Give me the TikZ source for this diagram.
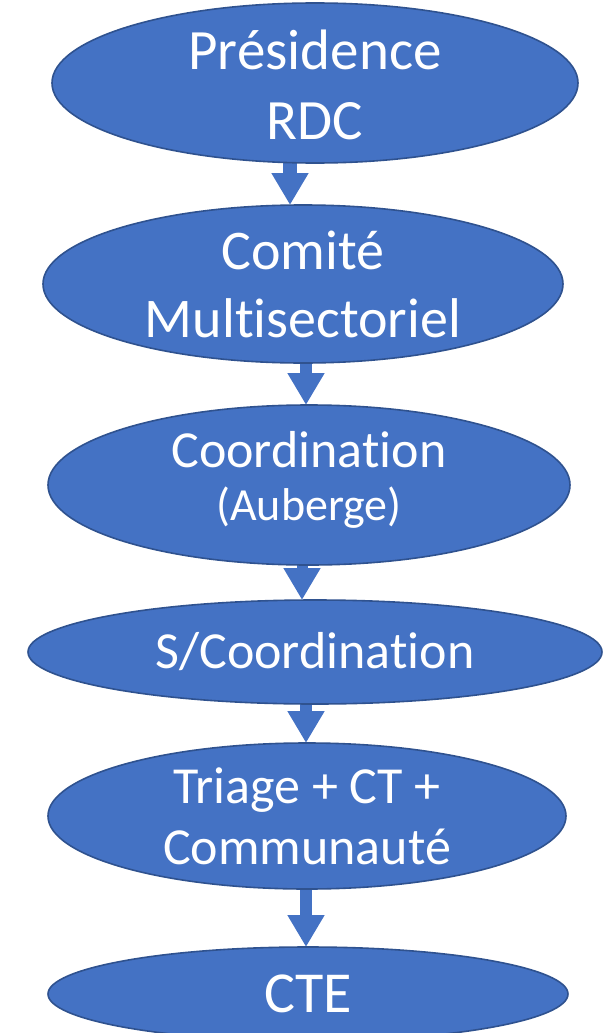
\documentclass[tikz,border=0pt]{standalone}
\usepackage{fontspec}
\setmainfont[RawFeature={-liga}]{Carlito}
\usetikzlibrary{shapes.geometric,arrows.meta,backgrounds}
\definecolor{ovalfill}{HTML}{4472C4}
\definecolor{ovalline}{HTML}{2F528F}
\tikzset{
  oval/.style={ellipse, draw=ovalline, line width=1.6pt, fill=ovalfill,
    inner sep=0pt, outer sep=0pt},
  ovaltext/.style={text=white, align=center, inner sep=0pt},
  blockarrow/.style={draw=ovalfill, line width=#1,
    -{Triangle[width=35pt,length=32pt]}},
}
\begin{document}
\begin{tikzpicture}[x=1pt,y=-1pt]
\useasboundingbox (0,0) rectangle (611,1033);
\node[oval, minimum width=526pt, minimum height=160pt,
  label={[ovaltext, yshift=-2pt, font=\fontsize{57}{70}\selectfont]center:Présidence\\RDC}] (p1) at (315,83) {};
\node[oval, minimum width=520pt, minimum height=158pt,
  label={[ovaltext, font=\fontsize{56}{68}\selectfont]center:Comité\\Multisectoriel}] (p2) at (303,284) {};
\node[oval, minimum width=522pt, minimum height=160pt,
  label={[ovaltext, yshift=5pt, font=\fontsize{52}{53}\selectfont]center:Coordination\\{\fontsize{46}{53}\selectfont(Auberge)}}] (p3) at (309,485) {};
\node[oval, minimum width=574pt, minimum height=104pt,
  label={[ovaltext, font=\fontsize{52}{62}\selectfont]center:S/Coordination}] (p4) at (315,652) {};
\node[oval, minimum width=518pt, minimum height=146pt,
  label={[ovaltext, font=\fontsize{52}{61}\selectfont]center:Triage + CT +\\Communauté}] (p5) at (307,816) {};
\node[oval, minimum width=520pt, minimum height=94pt,
  label={[ovaltext, font=\fontsize{58}{68}\selectfont]center:CTE}] (p6) at (308,994) {};
\begin{scope}[on background layer]
\draw[blockarrow=14pt] ([xshift=-25pt]p1.south) -- ([xshift=-13pt]p2.north);
\draw[blockarrow=12pt] ([xshift=3pt]p2.south) -- ([xshift=-3pt]p3.north);
\draw[blockarrow=11pt] ([xshift=-7pt]p3.south) -- ([xshift=-13pt]p4.north);
\draw[blockarrow=12pt] ([xshift=-9pt]p4.south) -- ([xshift=-1pt]p5.north);
\draw[blockarrow=12pt] ([xshift=-1pt]p5.south) -- ([xshift=-2pt]p6.north);
\end{scope}
\end{tikzpicture}
\end{document}
